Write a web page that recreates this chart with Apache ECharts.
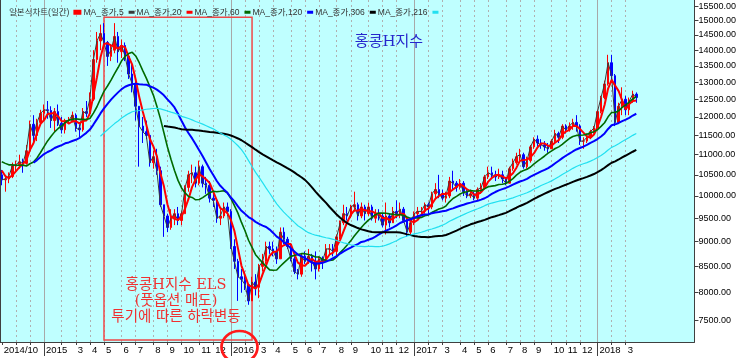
<!DOCTYPE html>
<html><head><meta charset="utf-8">
<script src="https://cdn.jsdelivr.net/npm/echarts@6/dist/echarts.min.js"></script>
<style>html,body{margin:0;padding:0;background:#fff}#c{width:739px;height:358px}</style>
</head><body><div id="c"></div>
<script>
// Weekly bars (Monday dates), first visible week 2014-10-06
const startMonday = [2014, 9, 6];
const weekCount = 197; // includes empty weeks on the right margin

// closes of the 14 weeks before the first visible week (used for the moving averages)
const preClose = [10300, 10250, 10400, 10900, 10900, 10700, 10900, 10800, 10750, 11350, 11150, 10950, 10650, 10450];

// [open, close, low, high]
const ohlc = [
[10500,10380,10250,10620],[10380,10400,10100,10480],[10400,10460,10300,10560],[10460,10720,10420,10800],
[10720,10750,10580,10850],[10750,10820,10650,11000],[10820,10780,10550,10900],[10780,11100,10750,11250],
[11100,11800,11050,11900],[11800,11500,11300,12050],[11500,11850,11350,11950],[11850,12100,11800,12200],
[12100,12200,11900,12350],[12200,12180,11950,12450],[12180,11900,11700,12300],[11900,12150,11600,12250],
[12150,11830,11750,12350],[11830,11650,11550,12000],[11650,11900,11550,11950],[11900,11900,11800,12000],
[11900,12050,11850,12150],[12050,11700,11600,12100],[11700,11650,11450,11800],[11650,12150,11600,12250],
[12150,12100,12000,12450],[12100,12500,12050,12700],[12500,13700,12450,14000],[13700,14300,13600,14600],
[14300,14550,14000,14850],[14550,14250,14050,14900],[14250,13800,13500,14300],[13800,14000,13650,14200],
[14000,14450,13900,14900],[14450,13950,13600,14600],[13950,14150,13750,14350],[14150,13800,13650,14250],
[13800,13250,13100,13900],[13250,12950,12700,13550],[12950,12300,11900,13100],[12300,11750,10700,12300],
[11750,11600,11300,12000],[11600,11500,11400,11900],[11500,10800,10700,11500],[10800,10950,10650,11100],
[10950,10600,10500,11150],[10600,9800,9750,10700],[9800,9550,9100,9800],[9550,9300,9200,9600],
[9300,9500,9250,9700],[9500,9600,9350,9700],[9600,9450,9350,9750],[9450,9600,9350,9650],
[9600,10200,9600,10250],[10200,10500,10100,10600],[10500,10550,10300,10750],[10550,10300,10200,10700],
[10300,10700,10250,10850],[10700,10300,10200,10750],[10300,10250,10050,10450],[10250,9950,9850,10350],
[9950,9900,9750,10100],[9900,9500,9400,9950],[9500,9550,9350,9700],[9550,9750,9500,9850],
[9750,9650,9550,9850],[9650,8900,8850,9700],[8900,8600,8450,9050],[8600,8300,7850,8650],
[8300,8250,8000,8450],[8250,8150,8050,8400],[8150,7850,7780,8150],[7850,8200,7850,8300],
[8200,8100,7950,8350],[8100,8500,7900,8550],[8500,8600,8400,8750],[8600,8900,8550,9000],
[8900,8850,8750,9000],[8850,8800,8700,9000],[8800,8650,8550,8900],[8650,9200,8650,9300],
[9200,9050,8950,9300],[9050,8900,8850,9100],[8900,8650,8600,8950],[8650,8400,8350,8700],
[8400,8350,8250,8450],[8350,8700,8300,8750],[8700,8600,8550,8800],[8600,8700,8550,8850],
[8700,8600,8400,8750],[8600,8450,8250,8800],[8450,8650,8400,8700],[8650,8600,8450,8700],
[8600,8850,8600,8950],[8850,8850,8750,8950],[8850,8800,8700,8950],[8800,9100,8700,9150],
[9100,9400,9050,9450],[9400,9600,9350,9800],[9600,9550,9450,9750],[9550,9750,9500,9800],
[9750,9800,9650,10100],[9800,9550,9450,9850],[9550,9750,9500,9850],[9750,9600,9450,9800],
[9600,9750,9550,9850],[9750,9500,9450,9800],[9500,9600,9400,9700],[9600,9550,9450,9700],
[9550,9350,9300,9600],[9350,9550,9150,9850],[9550,9400,9300,9600],[9400,9650,9400,9750],
[9650,9600,9500,9900],[9600,9700,9500,9850],[9700,9450,9400,9750],[9450,9200,9100,9500],
[9200,9400,9150,9450],[9400,9600,9350,9650],[9600,9650,9500,9750],[9650,9650,9550,9750],
[9650,9800,9600,9850],[9800,9750,9600,9850],[9750,10050,9700,10100],[10050,10150,9950,10300],
[10150,10050,9950,10500],[10050,9950,9900,10150],[9950,10000,9850,10100],[10000,10350,9950,10450],
[10350,10300,10150,10600],[10300,10200,10100,10350],[10200,10300,10150,10400],[10300,10100,10000,10350],
[10100,10000,9950,10150],[10000,10050,9950,10150],[10050,9950,9900,10100],[9950,10150,9900,10200],
[10150,10200,10050,10300],[10200,10450,10150,10500],[10450,10550,10400,10700],[10550,10500,10400,10700],
[10500,10450,10350,10600],[10450,10500,10400,10650],[10500,10400,10300,10600],[10400,10300,10250,10450],
[10300,10650,10300,10700],[10650,10800,10600,10900],[10800,10950,10750,11050],[10950,11000,10850,11150],
[11000,10700,10650,11050],[10700,10850,10650,10950],[10850,11200,10800,11250],[11200,11400,11150,11450],
[11400,11300,11200,11500],[11300,11250,11150,11400],[11250,11200,11100,11350],[11200,11150,11050,11300],
[11150,11350,11150,11400],[11350,11550,11300,11650],[11550,11450,11300,11600],[11450,11750,11400,11800],
[11750,11650,11550,11800],[11650,11750,11600,11850],[11750,11850,11650,11950],[11850,11750,11600,12050],
[11750,11350,11250,11800],[11350,11350,11150,11450],[11350,11450,11300,11550],[11450,11600,11400,11650],
[11600,11700,11550,11750],[11700,12150,11700,12200],[12150,12550,12100,12600],[12550,12950,12500,13050],
[12950,13600,12900,13850],[13600,13200,13000,13850],[13200,11850,11750,13250],[11850,12300,11850,12400],
[12300,12500,12050,12850],[12500,12200,12050,12600],[12200,12450,12050,12550],[12450,12650,12400,12750],
[12650,12550,12400,12700]
];

const candleName = '일본식차트(일간)';
const maNames  = ['MA_종가,5', 'MA_종가,20', 'MA_종가,60', 'MA_종가,120', 'MA_종가,306', 'MA_종가,216'];
const maWeeks  = [1, 4, 12, 24, 61, 43];
const maColors = ['#3a3a3a', '#ff0000', '#006a00', '#0000ff', '#000000', '#22e0f0'];
const maWidths = [1, 2, 1.6, 2, 2, 1.2];

const yTicks = [7500, 8000, 8500, 9000, 9500, 10000, 10500, 11000, 11500, 12000, 12500, 13000, 13500, 14000, 14500, 15000, 15500];
const yMin = 7140, yMax = 15717;

const tickIdx   = [0, 4, 8, 12, 17, 21, 25, 29, 34, 38, 43, 47, 51, 56, 60, 65, 69, 73, 77, 82, 86, 90, 95, 99, 104, 108, 112, 117, 121, 125, 130, 134, 138, 143, 147, 151, 156, 160, 164, 169, 173, 177];
const tickLabel = ['2014/10', '', '', '2015', '', '3', '4', '5', '6', '7', '8', '9', '10', '11', '12', '2016', '', '3', '4', '5', '6', '7', '8', '9', '10', '11', '12', '2017', '', '3', '4', '5', '6', '7', '8', '9', '10', '11', '12', '2018', '', '3'];
const yearIdx = [12, 65, 117, 169];

// ---------- build ----------
const cats = [];
{
  const d0 = Date.UTC(startMonday[0], startMonday[1], startMonday[2]);
  for (let i = 0; i < weekCount; i++) cats.push(new Date(d0 + i * 7 * 86400000).toISOString().slice(0, 10));
}
const tickSet = new Set(tickIdx);
const yearSet = new Set(yearIdx);
const labelMap = {};
tickIdx.forEach((t, k) => { labelMap[t] = tickLabel[k]; });

const L = Math.log;
const candleData = ohlc.map(d => d.map(L));
const allClose = preClose.concat(ohlc.map(d => d[1]));
function movingAvg(n) {
  return ohlc.map((d, i) => {
    const end = i + preClose.length;
    if (end - n + 1 < 0) return '-';
    let s = 0;
    for (let j = end - n + 1; j <= end; j++) s += allClose[j];
    return L(s / n);
  });
}

const latin = "'Liberation Sans', Arial, sans-serif";
const mixed = "'Liberation Sans', 'Noto Sans CJK KR', sans-serif";
const serifK = "'DejaVu Serif', 'Noto Sans CJK KR', serif";

const series = [{
  name: candleName,
  type: 'candlestick',
  data: candleData,
  barWidth: 2,
  itemStyle: { color: '#ff0000', color0: '#0000ff', borderColor: '#ff0000', borderColor0: '#0000ff', borderWidth: 1 },
  markArea: {
    silent: true,
    itemStyle: { color: 'rgba(0,0,0,0)', borderColor: '#f04848', borderWidth: 1.5 },
    data: [[{ xAxis: cats[29], yAxis: L(15100) }, { xAxis: cats[71], yAxis: L(7173) }]]
  },
  z: 2
}];
maNames.forEach((nm, k) => {
  series.push({
    name: nm, type: 'line', data: movingAvg(maWeeks[k]),
    symbol: 'none', showSymbol: false, color: maColors[k],
    lineStyle: { color: maColors[k], width: maWidths[k] }, z: 3
  });
});

const chart = echarts.init(document.getElementById('c'), null, { renderer: 'canvas' });
chart.setOption({
  animation: false,
  backgroundColor: '#ffffff',
  grid: { left: 0, right: 43, top: 0, bottom: 16, show: true, backgroundColor: '#bfffff', borderWidth: 0 },
  legend: {
    left: 4, top: 3, icon: 'rect', itemWidth: 6, itemHeight: 3, itemGap: 2, align: 'right',
    textStyle: { fontSize: 8.5, color: '#333', fontFamily: mixed },
    data: [candleName].concat(maNames)
  },
  xAxis: [{
    type: 'category', data: cats, boundaryGap: true, position: 'bottom',
    axisLine: { show: true, lineStyle: { color: '#404040', width: 1 } },
    axisTick: { show: true, alignWithLabel: true, length: 3, interval: i => tickSet.has(i) && !yearSet.has(i), lineStyle: { color: '#404040' } },
    axisLabel: { interval: i => !!labelMap[i], formatter: (v, i) => labelMap[i] || '', align: 'left', padding: [0, 0, 0, 2], margin: 3, fontSize: 9.5, color: '#000', fontFamily: latin },
    splitLine: { show: true, alignWithLabel: true, interval: i => i > 0 && tickSet.has(i) && !yearSet.has(i), lineStyle: { color: '#b0b0b0', type: [2, 3], width: 1 } }
  }, {
    type: 'category', data: cats, boundaryGap: true, position: 'bottom', offset: 0,
    axisLine: { show: false },
    axisTick: { show: true, alignWithLabel: true, length: 14, interval: i => yearSet.has(i), lineStyle: { color: '#404040' } },
    axisLabel: { show: false },
    splitLine: { show: true, alignWithLabel: true, interval: i => yearSet.has(i), lineStyle: { color: '#a8a8a8', width: 1 } }
  }],
  yAxis: [{
    type: 'value', position: 'right', min: L(yMin), max: L(yMax),
    axisLine: { show: true, lineStyle: { color: '#404040', width: 1 } },
    axisTick: { show: true, length: 4, customValues: yTicks.map(L), lineStyle: { color: '#404040' } },
    axisLabel: { customValues: yTicks.map(L), formatter: v => Math.round(Math.exp(v)).toFixed(2), margin: 4, fontSize: 9, color: '#000', fontFamily: latin },
    splitLine: { show: false }
  }, {
    type: 'value', position: 'left', min: L(yMin), max: L(yMax),
    axisLine: { show: true, lineStyle: { color: '#404040', width: 1 } },
    axisTick: { show: false }, axisLabel: { show: false }, splitLine: { show: false }
  }],
  series: series,
  graphic: [
    { type: 'text', x: 389, y: 42, z: 50, style: { text: '홍콩H지수', fill: '#2626cc', font: '15px ' + serifK, align: 'center', verticalAlign: 'middle' } },
    { type: 'text', x: 176, y: 285, z: 50, style: { text: '홍콩H지수 ELS', fill: '#f03030', font: '14.5px ' + serifK, align: 'center', verticalAlign: 'middle' } },
    { type: 'text', x: 176, y: 301, z: 50, style: { text: '(풋옵션 매도)', fill: '#f03030', font: '14.5px ' + serifK, align: 'center', verticalAlign: 'middle' } },
    { type: 'text', x: 176, y: 317, z: 50, style: { text: '투기에 따른 하락변동', fill: '#f03030', font: '14.5px ' + serifK, align: 'center', verticalAlign: 'middle' } },
    { type: 'ellipse', z: 60, shape: { cx: 239.5, cy: 347, rx: 18, ry: 16 }, style: { fill: 'none', stroke: '#ff1a1a', lineWidth: 2.7 } }
  ]
});
</script></body></html>
